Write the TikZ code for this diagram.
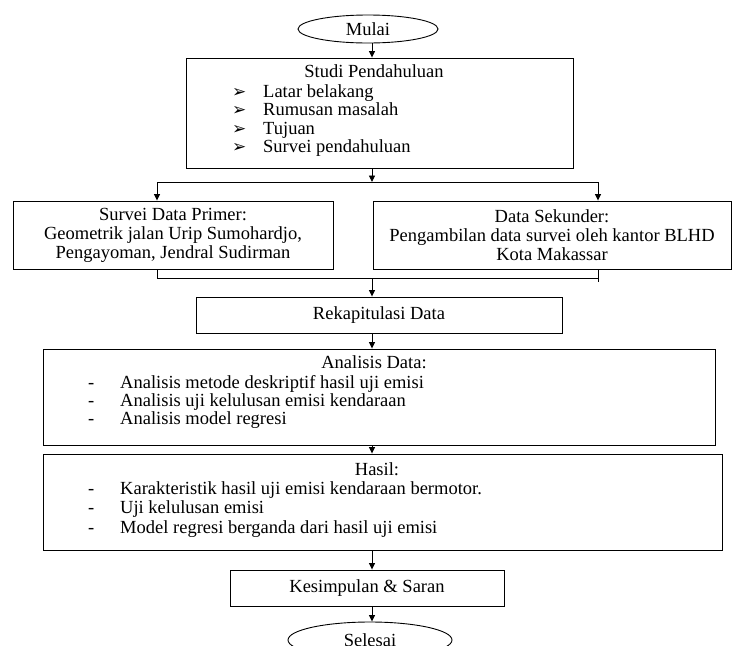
\documentclass[tikz,border=0pt]{standalone}
\usepackage{fontspec}
\setmainfont{Liberation Serif}
\newfontfamily\symfont{DejaVu Sans}
\usetikzlibrary{shapes.geometric, arrows.meta, positioning, calc}

\begin{document}
\begin{tikzpicture}[x=1pt, y=-1pt,
  block/.style={draw, line width=0.9pt, inner sep=0pt, align=center,
                font=\fontsize{18.5}{19}\selectfont},
  term/.style={draw, ellipse, line width=0.9pt, inner sep=0pt,
               font=\fontsize{18.5}{19}\selectfont},
  txt/.style={inner sep=0pt, text height=11pt, text depth=3pt,
              font=\fontsize{18.5}{19}\selectfont},
  arrow/.style={-{Triangle[length=6.5pt, width=6pt]}, line width=0.9pt},
  link/.style={line width=0.9pt}
]
  \clip (0,0) rectangle (732,646);

  % Columns
  \coordinate (axis) at (372,0);
  \coordinate (lcol) at (157,0);
  \coordinate (rcol) at (598,0);
  \coordinate (split) at (372,182);
  \coordinate (merge) at (372,278);

  % Nodes
  \node[term, minimum width=140pt, minimum height=28pt] (mulai) at (368,29) {Mulai};
  \node[block, minimum width=387pt, minimum height=110pt] (studi) at (379.5,113) {};
  \node[txt] (studiT) at (374,73) {Studi Pendahuluan};
  \foreach \t [count=\i] in {Latar belakang, Rumusan masalah, Tujuan, Survei pendahuluan} {
    \node[txt, anchor=west] (studiB\i) at (232,{93+18.5*(\i-1)}) {\symfont\fontsize{17}{17}\selectfont ➢};
    \node[txt, anchor=west] (studiL\i) at (263,{93+18.5*(\i-1)}) {\t};
  }

  \node[block, minimum width=320pt, minimum height=68pt] (primer) at (173,235)
    {Survei Data Primer:\\Geometrik jalan Urip Sumohardjo,\\Pengayoman, Jendral Sudirman};
  \node[block, minimum width=358pt, minimum height=68pt] (sekunder) at (552,235)
    {Data Sekunder:\\Pengambilan data survei oleh kantor BLHD\\Kota Makassar};

  \node[block, minimum width=366pt, minimum height=36pt] (rekap) at (379,315) {Rekapitulasi Data};

  \node[block, minimum width=672pt, minimum height=96pt] (analisis) at (379,397) {};
  \node[txt] (analisisT) at (374,364) {Analisis Data:};
  \foreach \t [count=\i] in {Analisis metode deskriptif hasil uji emisi,
      Analisis uji kelulusan emisi kendaraan, Analisis model regresi} {
    \node[txt, anchor=west] (analisisB\i) at (88,{384+18*(\i-1)}) {-};
    \node[txt, anchor=west] (analisisL\i) at (120,{384+18*(\i-1)}) {\t};
  }

  \node[block, minimum width=679pt, minimum height=96pt] (hasil) at (382.5,502) {};
  \node[txt] (hasilT) at (377,471) {Hasil:};
  \foreach \t [count=\i] in {Karakteristik hasil uji emisi kendaraan bermotor.,
      Uji kelulusan emisi, Model regresi berganda dari hasil uji emisi} {
    \node[txt, anchor=west] (hasilB\i) at (88,{490+19.5*(\i-1)}) {-};
    \node[txt, anchor=west] (hasilL\i) at (120,{490+19.5*(\i-1)}) {\t};
  }

  \node[block, minimum width=274pt, minimum height=36pt] (simpul) at (367,588) {Kesimpulan \& Saran};
  \node[term, minimum width=164pt, minimum height=36pt] (selesai) at (370,640) {Selesai};

  % Arrows
  \draw[arrow] (mulai.south -| axis) -- (studi.north -| axis);
  \draw[arrow] (studi.south -| axis) -- (split);
  \draw[link] (split -| lcol) -- (split -| rcol);
  \draw[arrow] (split -| lcol) -- (primer.north -| lcol);
  \draw[arrow] (split -| rcol) -- (sekunder.north -| rcol);
  \draw[link] (primer.south -| lcol) -- (merge -| lcol) -- (merge -| rcol);
  \draw[link] (sekunder.south -| rcol) -- ($(merge -| rcol)+(0,4)$);
  \draw[arrow] (merge) -- (rekap.north -| axis);
  \draw[arrow] (rekap.south -| axis) -- (analisis.north -| axis);
  \draw[arrow] (analisis.south -| axis) -- (hasil.north -| axis);
  \draw[arrow] (hasil.south -| axis) -- (simpul.north -| axis);
  \draw[arrow] (simpul.south -| axis) -- (selesai.north -| axis);
\end{tikzpicture}
\end{document}
